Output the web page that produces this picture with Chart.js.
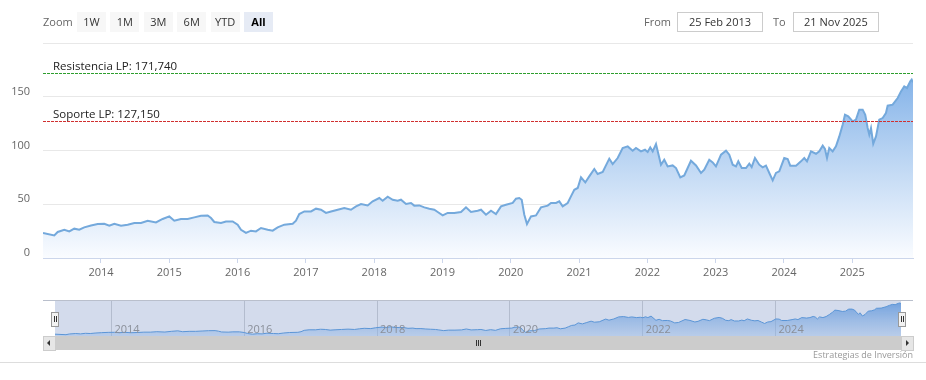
<!DOCTYPE html>
<html><head><meta charset="utf-8">
<script src="https://cdn.jsdelivr.net/npm/chart.js@4.4.1/dist/chart.umd.min.js"></script>
<style>
html,body{margin:0;padding:0;background:#fff;}
body{width:926px;height:380px;position:relative;overflow:hidden;font-family:"Open Sans",sans-serif;}
canvas{position:absolute;}
.btn{position:absolute;top:12px;height:20px;width:29px;background:#f7f7f7;color:#333;font-size:11px;line-height:20px;text-align:center;}
.btn.sel{background:#e6ebf5;font-weight:bold;color:#000;}
.lbl{position:absolute;top:12px;height:20px;line-height:20px;font-size:11px;color:#666;}
.inp{position:absolute;top:12px;height:18px;border:1px solid #cccccc;font-size:11px;line-height:18px;text-align:center;color:#333;}
</style>
</head><body>
<canvas id="main" width="926" height="300" style="left:0;top:0;width:926px;height:300px"></canvas>
<canvas id="nav" width="846" height="35" style="left:55px;top:301px;width:846px;height:35px;background:#d3dbec"></canvas>
<div id="ui"></div>
<script>
// ---------- data ----------
const years = [
2013.151,2013.316,2013.366,2013.463,2013.536,2013.609,2013.682,2013.755,2013.854,2013.952,
2014.048,2014.122,2014.195,2014.293,2014.391,2014.488,2014.586,2014.684,2014.805,2014.903,
2015.000,2015.073,2015.171,2015.269,2015.366,2015.464,2015.562,2015.611,2015.659,2015.757,
2015.830,2015.928,2016.001,2016.050,2016.123,2016.196,2016.269,2016.343,2016.441,2016.514,
2016.587,2016.684,2016.807,2016.855,2016.903,2016.977,2017.075,2017.148,2017.221,2017.294,
2017.368,2017.466,2017.562,2017.660,2017.734,2017.807,2017.905,2017.978,2018.075,2018.124,
2018.198,2018.271,2018.344,2018.392,2018.466,2018.539,2018.587,2018.660,2018.734,2018.807,
2018.880,2018.930,2019.003,2019.076,2019.173,2019.271,2019.344,2019.417,2019.515,2019.564,
2019.637,2019.710,2019.783,2019.857,2019.930,2020.028,2020.076,2020.124,2020.160,2020.198,
2020.237,2020.296,2020.369,2020.442,2020.540,2020.589,2020.662,2020.710,2020.760,2020.833,
2020.881,2020.930,2020.980,2021.028,2021.091,2021.149,2021.223,2021.272,2021.346,2021.442,
2021.492,2021.565,2021.638,2021.712,2021.785,2021.833,2021.906,2021.965,2022.004,2022.042,
2022.078,2022.126,2022.199,2022.247,2022.297,2022.370,2022.419,2022.482,2022.540,2022.638,
2022.712,2022.785,2022.833,2022.906,2022.956,2023.004,2023.078,2023.151,2023.199,2023.249,
2023.297,2023.331,2023.381,2023.444,2023.492,2023.527,2023.575,2023.638,2023.688,2023.736,
2023.785,2023.835,2023.883,2023.931,2024.004,2024.054,2024.092,2024.176,2024.249,2024.297,
2024.337,2024.395,2024.469,2024.517,2024.567,2024.600,2024.630,2024.663,2024.713,2024.761,
2024.810,2024.859,2024.893,2024.941,2025.006,2025.054,2025.102,2025.152,2025.190,2025.225,
2025.249,2025.274,2025.307,2025.347,2025.395,2025.445,2025.493,2025.518,2025.591,2025.665,
2025.713,2025.761,2025.801,2025.849,2025.870,2025.889];
const prices = [
23.3,21.0,24.2,26.3,24.7,27.3,26.3,28.5,30.3,31.6,
31.9,30.0,31.9,30.0,31.0,32.6,32.6,34.7,33.1,36.3,
38.7,34.7,36.3,36.3,37.8,39.3,39.6,37.2,33.5,32.6,
34.0,34.0,31.0,26.3,23.3,25.4,24.7,27.9,26.3,25.4,
28.5,31.0,31.9,34.7,40.9,43.3,43.3,45.9,44.9,41.9,
43.3,44.9,46.5,44.9,48.0,50.2,48.9,52.7,55.8,53.3,
57.0,54.2,53.3,54.2,50.2,51.2,48.7,48.9,47.1,45.9,
44.9,42.8,39.6,41.9,41.9,42.8,47.1,42.8,44.0,44.9,
40.3,44.0,40.9,48.0,49.6,51.2,55.2,55.8,54.2,40.3,
31.6,38.7,39.6,47.1,48.7,51.2,51.2,52.7,48.0,51.2,
57.3,63.5,65.1,75.0,70.3,75.9,82.8,78.1,80.0,92.4,
87.4,93.0,102.3,103.8,99.8,102.3,99.2,100.7,98.6,102.9,
99.2,106.0,86.8,91.4,85.2,86.1,83.7,75.0,76.8,90.5,
86.1,79.1,82.1,91.4,88.9,85.2,96.1,99.8,96.1,86.8,
85.2,89.9,83.7,83.7,87.7,84.6,93.0,86.8,84.3,85.9,
79.1,72.2,79.1,80.6,93.0,92.1,85.9,85.9,89.9,93.0,
89.9,99.2,97.0,99.2,104.5,101.4,93.0,102.3,99.2,103.8,
113.1,124.0,133.3,131.7,127.1,128.7,138.0,138.0,133.3,120.9,
114.7,120.9,106.3,113.1,128.7,130.2,134.9,141.7,142.6,148.8,
155.0,159.6,158.1,164.3,165.9,163.5];
const xTickYears = [2014,2015,2016,2017,2018,2019,2020,2021,2022,2023,2024,2025];
const navTickYears = [2014,2016,2018,2020,2022,2024];
const yTickValues = [0,50,100,150,200];
const yLabelValues = [0,50,100,150];
const startYear = 2013.151, endYear = 2025.889;
const refLevels = [171.74, 127.15];
const refLabels = ['Resistencia LP: 171,740', 'Soporte LP: 127,150'];
const refColors = ['#2e9e2e', '#d03030'];
const zoomButtons = ['1W','1M','3M','6M','YTD','All'];
const fromDate = '25 Feb 2013', toDate = '21 Nov 2025';
const creditText = 'Estrategias de Inversión';

const points = years.map((t,i)=>({x:t,y:prices[i]}));
const FONT = '"Open Sans", sans-serif';

function grad(stops){
  return (ctx)=>{
    const ch = ctx.chart, a = ch.chartArea;
    if(!a) return stops[0][1];
    const g = ch.ctx.createLinearGradient(0,a.top,0,a.bottom);
    stops.forEach(s=>g.addColorStop(s[0],s[1]));
    return g;
  };
}

const refPlugin = {
  id:'refLines',
  afterDatasetsDraw(chart){
    const {ctx, chartArea:a, scales:{y}} = chart;
    refLevels.forEach((v,i)=>{
      const py = Math.round(y.getPixelForValue(v))+0.5;
      ctx.save();
      ctx.strokeStyle = refColors[i];
      ctx.lineWidth = 1;
      ctx.setLineDash([3,1]);
      ctx.beginPath(); ctx.moveTo(a.left,py); ctx.lineTo(a.right,py); ctx.stroke();
      ctx.setLineDash([]);
      ctx.fillStyle = '#222';
      ctx.font = '11.5px '+FONT;
      ctx.textBaseline = 'alphabetic';
      ctx.fillText(refLabels[i], a.left+10, py-4);
      ctx.restore();
    });
  }
};

const navLabelPlugin = {
  id:'navLabels',
  afterDraw(chart){
    const {ctx, chartArea:a, scales:{x}} = chart;
    ctx.save();
    ctx.fillStyle = '#8a8f99';
    ctx.font = '11px '+FONT;
    ctx.textBaseline = 'middle';
    ctx.textAlign = 'left';
    navTickYears.forEach(v=>{
      ctx.fillText(String(v), x.getPixelForValue(v)+3, a.bottom-6);
    });
    ctx.restore();
  }
};

new Chart(document.getElementById('main'),{
  type:'line',
  data:{datasets:[{
    data:points,
    borderColor:'#74a9dc',
    borderWidth:2,
    pointRadius:0,
    tension:0,
    fill:'origin',
    backgroundColor:grad([[0,'rgba(108,164,228,1)'],[0.5,'rgba(182,210,242,1)'],[1,'rgba(250,252,255,1)']])
  }]},
  options:{
    responsive:false,animation:false,devicePixelRatio:1,
    layout:{padding:{top:43,right:13,left:0,bottom:0}},
    plugins:{legend:{display:false},tooltip:{enabled:false}},
    scales:{
      x:{type:'linear',min:startYear,max:endYear,
        afterBuildTicks:s=>{s.ticks = xTickYears.map(v=>({value:v}));},
        afterFit:s=>{s.height=42;},
        grid:{drawOnChartArea:false,drawTicks:true,tickLength:5,tickColor:'#ccd6eb'},
        border:{display:true,color:'#ccd6eb'},
        ticks:{padding:3,color:'#666',font:{family:FONT,size:11},maxRotation:0,callback:v=>String(v)}},
      y:{type:'linear',min:0,max:200,
        afterBuildTicks:s=>{s.ticks = yTickValues.map(v=>({value:v}));},
        afterFit:s=>{s.width=43;},
        grid:{color:'#e8e8e8',drawTicks:false},
        border:{display:false},
        ticks:{padding:13,labelOffset:-5,color:'#666',font:{family:FONT,size:11},
          callback:v=>yLabelValues.includes(v)?String(v):''}}
    }
  },
  plugins:[refPlugin]
});

new Chart(document.getElementById('nav'),{
  type:'line',
  data:{datasets:[{
    data:points,
    borderColor:'#5b95d6',
    borderWidth:1,
    pointRadius:0,
    tension:0,
    fill:'origin',
    backgroundColor:grad([[0,'rgba(92,148,218,0.85)'],[1,'rgba(150,185,230,0.45)']])
  }]},
  options:{
    responsive:false,animation:false,devicePixelRatio:1,
    layout:{padding:0},
    plugins:{legend:{display:false},tooltip:{enabled:false}},
    scales:{
      x:{type:'linear',min:startYear,max:endYear,
        afterBuildTicks:s=>{s.ticks = navTickYears.map(v=>({value:v}));},
        afterFit:s=>{s.height=0;},
        grid:{color:'rgba(120,130,150,0.35)',drawTicks:false},
        border:{display:false},
        ticks:{display:false}},
      y:{type:'linear',min:15,max:175,display:false}
    }
  },
  plugins:[navLabelPlugin]
});

// ---------- UI (range selector, inputs, scrollbar) ----------
const ui = document.getElementById('ui');
function el(tag, css, text, cls){
  const d = document.createElement(tag);
  if(cls) d.className = cls;
  d.style.cssText = css;
  if(text!==undefined) d.textContent = text;
  ui.appendChild(d); return d;
}
el('div','left:43px;','Zoom','lbl');
zoomButtons.forEach((b,i)=>{
  el('div','left:'+(77+i*33.4)+'px;',b,'btn'+(b==='All'?' sel':''));
});
el('div','left:644px;','From','lbl');
el('div','left:677px;width:84px;',fromDate,'inp');
el('div','left:773px;','To','lbl');
el('div','left:793px;width:84px;',toDate,'inp');

// navigator outline & handles
el('div','position:absolute;left:43px;top:300px;width:870px;height:1px;background:#b9bfcc;');
function handle(x){
  el('div','position:absolute;left:'+x+'px;top:312px;width:6px;height:13px;background:#f2f2f2;border:1px solid #999;');
  el('div','position:absolute;left:'+(x+3)+'px;top:316px;width:1px;height:6px;background:#333;');
  el('div','position:absolute;left:'+(x+5)+'px;top:316px;width:1px;height:6px;background:#333;');
}
handle(51); handle(898);
// scrollbar
el('div','position:absolute;left:43px;top:336px;width:870px;height:14px;background:#cccccc;');
el('div','position:absolute;left:43px;top:336px;width:11px;height:13px;background:#e6e6e6;border:1px solid #cccccc;');
el('div','position:absolute;left:901px;top:336px;width:11px;height:13px;background:#e6e6e6;border:1px solid #cccccc;');
el('div','position:absolute;left:47px;top:340px;width:0;height:0;border-top:3px solid transparent;border-bottom:3px solid transparent;border-right:3px solid #333;');
el('div','position:absolute;left:906px;top:340px;width:0;height:0;border-top:3px solid transparent;border-bottom:3px solid transparent;border-left:3px solid #333;');
[476,478,480].forEach(x=>el('div','position:absolute;left:'+x+'px;top:340px;width:1px;height:6px;background:#333;'));
// credits & bottom line
el('div','position:absolute;right:13px;top:349px;font-size:9px;color:#999;line-height:12px;',creditText);
el('div','position:absolute;left:0;top:362px;width:926px;height:1px;background:#dddddd;');
</script>
</body></html>
